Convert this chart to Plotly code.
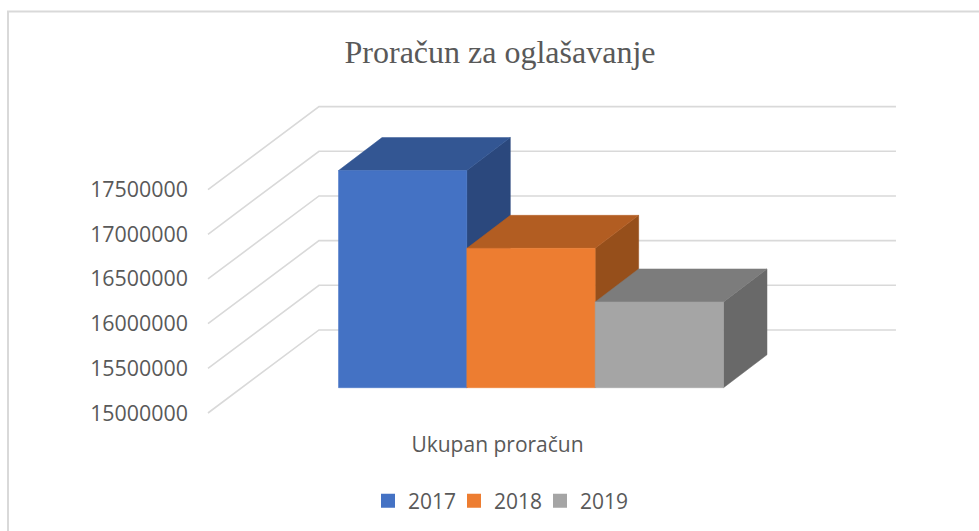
import plotly.graph_objects as go

# Data
years = ["2017", "2018", "2019"]
budget = [17430000, 16560000, 15960000]
category = ["Ukupan proračun"]
tick_values = [15000000, 15500000, 16000000, 16500000, 17000000, 17500000]
front_colors = ["#4472C4", "#ED7D31", "#A5A5A5"]
top_colors = ["#335693", "#B25D22", "#7C7C7C"]
side_colors = ["#2B487D", "#964F1B", "#696969"]

# Oblique-projection parameters in axis units
Y_BASE = 15000000
BAR_DX, BAR_DY = 0.339, 369000
WALL_DX, WALL_DY = 0.865, 929000
WALL_LEFT, WALL_RIGHT = -1.017, 4.344
FRONT_SHIFT = 283000
CATEGORY_X = 1.239
GRID = "#D9D9D9"
TEXT = "#595959"

fig = go.Figure()

# Gridlines on the side and back walls
for v in tick_values:
    fig.add_trace(go.Scatter(
        x=[WALL_LEFT, WALL_LEFT + WALL_DX, WALL_RIGHT],
        y=[v, v + WALL_DY, v + WALL_DY],
        mode="lines", line=dict(color=GRID, width=1.6),
        showlegend=False, hoverinfo="skip"))

def face(xs, ys, color):
    fig.add_trace(go.Scatter(
        x=xs, y=ys, mode="lines", fill="toself", fillcolor=color,
        line=dict(color=color, width=0.5),
        showlegend=False, hoverinfo="skip"))

for i, v in enumerate(budget):
    lo = Y_BASE + FRONT_SHIFT
    hi = v + FRONT_SHIFT
    l, r = i, i + 1
    face([r, r + BAR_DX, r + BAR_DX, r, r], [lo, lo + BAR_DY, hi + BAR_DY, hi, lo], side_colors[i])
    face([l, l + BAR_DX, r + BAR_DX, r, l], [hi, hi + BAR_DY, hi + BAR_DY, hi, hi], top_colors[i])
    face([l, r, r, l, l], [lo, lo, hi, hi, lo], front_colors[i])

# Legend entries
for name, color in zip(years, front_colors):
    fig.add_trace(go.Scatter(
        x=[None], y=[None], mode="markers", name=name,
        marker=dict(symbol="square", size=14, color=color)))

W, H = 979, 531
L, R, T, B = 200, 905, 96, 420
UNIT_X = 128.33
UNIT_Y = 44.68 / 500000
x_origin_px = 338.5
y_origin_px = 413

def px(x):
    return (x - L) / (R - L)

def py(y):
    return (B - y) / (B - T)

fig.add_shape(type="path", xref="paper", yref="paper",
              path=f"M {px(8)} {py(540)} L {px(8)} {py(11.5)} L {px(990)} {py(11.5)}",
              line=dict(color=GRID, width=2), layer="below")

fig.update_layout(
    width=W, height=H,
    margin=dict(l=L, r=W - R, t=T, b=H - B, pad=0),
    paper_bgcolor="white", plot_bgcolor="white",
    title=dict(text="Proračun za oglašavanje", x=500 / W, xanchor="center",
               y=1 - 52 / H, yanchor="middle",
               font=dict(family="Liberation Serif", size=32, color=TEXT)),
    xaxis=dict(range=[(L - x_origin_px) / UNIT_X, (R - x_origin_px) / UNIT_X],
               showgrid=False, zeroline=False, showline=False,
               tickmode="array", tickvals=[CATEGORY_X], ticktext=category,
               ticks="", ticklabelstandoff=10,
               tickfont=dict(family="Open Sans", size=21, color=TEXT)),
    yaxis=dict(range=[Y_BASE - (B - y_origin_px) / UNIT_Y, Y_BASE + (y_origin_px - T) / UNIT_Y],
               showgrid=False, zeroline=False, showline=False,
               tickmode="array", tickvals=tick_values, tickformat="d",
               ticks="", ticklabelstandoff=11,
               tickfont=dict(family="Open Sans", size=21.4, color=TEXT)),
    legend=dict(orientation="h", xref="container", yref="container",
                x=375 / W, xanchor="left", y=1 - 501 / H, yanchor="middle",
                entrywidth=48, entrywidthmode="pixels", indentation=-7,
                font=dict(family="Open Sans", size=21, color=TEXT),
                bgcolor="rgba(0,0,0,0)"),
    showlegend=True,
)

fig.write_html("out.html", config={"displayModeBar": False},
               post_script="document.body.style.margin='0';window.dispatchEvent(new Event('resize'));")
